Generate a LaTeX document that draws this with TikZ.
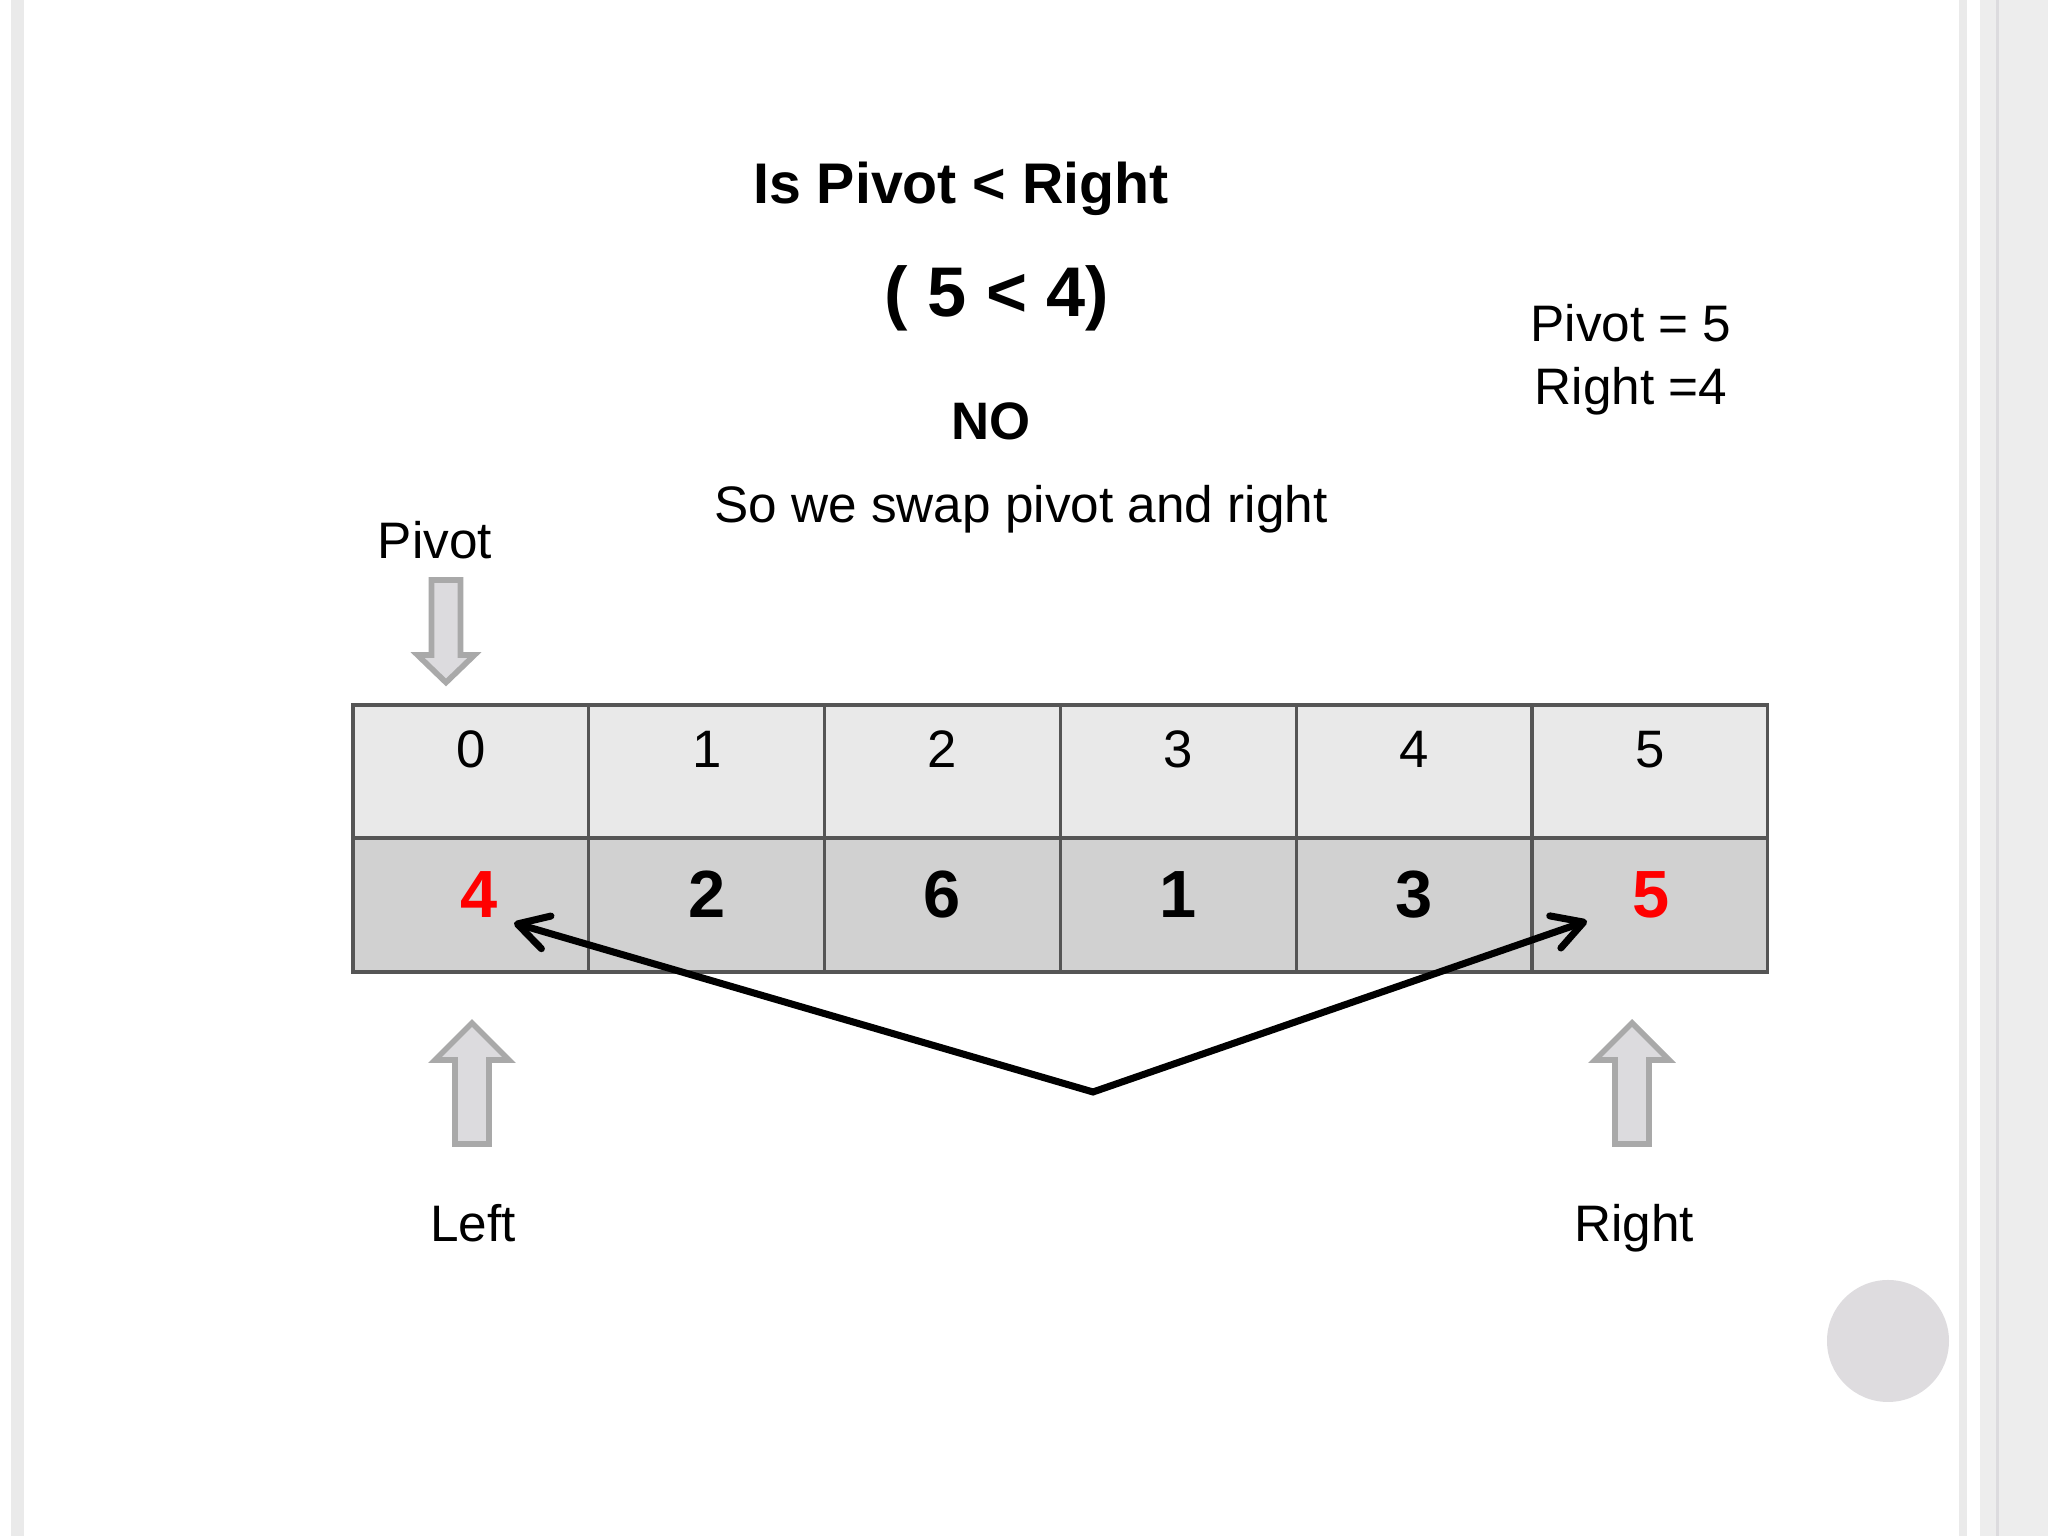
\documentclass[tikz,border=0pt]{standalone}
\usepackage{fontspec}
\setmainfont{Liberation Sans}
\usetikzlibrary{arrows.meta}

\begin{document}
\begin{tikzpicture}[
    every node/.style={inner sep=0pt},
]

% ---------------------------------------------------------------- colours
\definecolor{c1}{HTML}{555555}   % grid of the array
\definecolor{c2}{HTML}{E9E9E9}   % index row
\definecolor{c3}{HTML}{D1D1D1}   % value row
\definecolor{c4}{HTML}{DCDBDE}   % the hollow pointers
\definecolor{c5}{HTML}{A9A9A9}
\definecolor{swapred}{HTML}{FF0000}
\definecolor{edgecolor}{HTML}{EAEAEA}
\definecolor{pagecolor}{HTML}{EDEDED}
\definecolor{dotcolor}{HTML}{DEDCDF}

% ---------------------------------------------------------------- styles
\tikzset{
    idxcell/.style={
        rectangle, minimum width=2.358cm, minimum height=1.33cm,
        draw=c1, line width=0.9pt, fill=c2,
    },
    valcell/.style={
        rectangle, minimum width=2.358cm, minimum height=1.34cm,
        draw=c1, line width=0.9pt, fill=c3,
    },
    idxnum/.style={anchor=base, font=\fontsize{15}{18}\selectfont},
    valnum/.style={anchor=base, font=\fontsize{19}{23}\selectfont\bfseries},
    caption/.style={anchor=base, font=\fontsize{14.6}{18}\selectfont},
    pointer/.style={fill=c4, draw=c5, line width=1.6pt},
    swaparrow/.style={
        line width=2pt,
        {Straight Barb[round, length=0.3cm, width=0.34cm]}-{Straight Barb[round, length=0.3cm, width=0.34cm]},
    },
}

% ================================================================
% GEOMETRY
%   page          x in [0, 20.48], y in [0, 15.36]
%   array         x in [3.53, 17.68], index row y = 7.645, value row y = 6.31
%   cell width    2.358
%   pointers      down at x = 4.46, up at x = 4.72 and 16.32
% ================================================================

\useasboundingbox (0, 0) rectangle (20.48, 15.36);
\fill[white] (0, 0) rectangle (20.48, 15.36);

% ---------------------------------------------------------------- page edges
\fill[edgecolor] (0.11, 0) rectangle (0.24, 15.36);
\fill[edgecolor] (19.59, 0) rectangle (19.67, 15.36);
\fill[pagecolor] (19.80, 0) rectangle (20.48, 15.36);
\fill[c4] (19.96, 0) rectangle (19.99, 15.36);
\fill[dotcolor] (18.88, 1.95) circle (0.61);

% ---------------------------------------------------------------- heading
\node[anchor=base, font=\fontsize{16.3}{20}\selectfont\bfseries] (title)
    at (9.61, 13.32) {Is Pivot < Right};
\node[anchor=base, font=\fontsize{20}{24}\selectfont\bfseries] (test)
    at (9.97, 12.19) {( 5 < 4)};
\node[anchor=base, font=\fontsize{15}{18}\selectfont\bfseries] (verdict)
    at (9.91, 10.96) {NO};
\node[caption] (action) at (10.21, 10.13) {So we swap pivot and right};

\node[caption] (pivotval) at (16.31, 11.94) {Pivot = 5};
\node[caption] (rightval) at (16.31, 11.31) {Right =4};

% ---------------------------------------------------------------- array
\foreach \k in {0,...,5} {
    \node[idxcell] (i\k) at (4.709 + \k*2.358, 7.645) {};
    \node[valcell] (v\k) at (4.709 + \k*2.358, 6.31) {};
    \node[idxnum] (n\k) at (4.709 + \k*2.358, 7.68) {\k};
}

\node[valnum, text=swapred] (w0) at (4.79, 6.18) {4};
\foreach \k/\v in {1/2, 2/6, 3/1, 4/3} {
    \node[valnum] (w\k) at (4.709 + \k*2.358, 6.18) {\v};
}
\node[valnum, text=swapred] (w5) at (16.51, 6.18) {5};

% ---------------------------------------------------------------- pointers
\node[caption] (pivotlbl) at (4.35, 9.77) {Pivot};
\draw[pointer]
    (4.315, 9.56) -- (4.605, 9.56) -- (4.605, 8.81) -- (4.745, 8.81)
    -- (4.46, 8.535) -- (4.175, 8.81) -- (4.315, 8.81) -- cycle;

\foreach \x in {4.72, 16.32} {
    \draw[pointer]
        (\x - 0.17, 3.92) -- (\x + 0.17, 3.92) -- (\x + 0.17, 4.76)
        -- (\x + 0.37, 4.76) -- (\x, 5.13) -- (\x - 0.37, 4.76)
        -- (\x - 0.17, 4.76) -- cycle;
}
\node[caption] (leftlbl) at (4.73, 2.94) {Left};
\node[caption] (rightlbl) at (16.34, 2.94) {Right};

% ---------------------------------------------------------------- the swap
\coordinate (swapL) at (5.14, 6.13);
\coordinate (swapM) at (10.93, 4.44);
\coordinate (swapR) at (15.87, 6.15);
\draw[swaparrow] (swapL) -- (swapM) -- (swapR);

\end{tikzpicture}
\end{document}
